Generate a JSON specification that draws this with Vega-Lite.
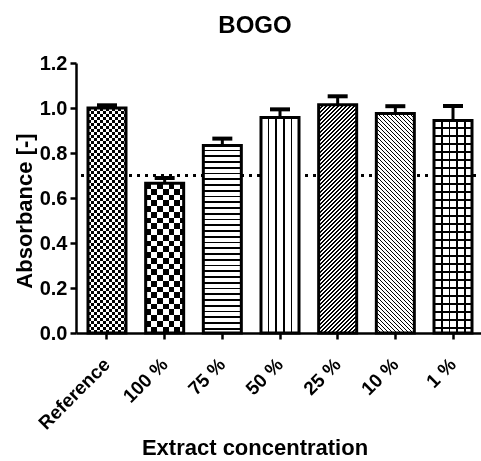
{
"$schema":"https://vega.github.io/schema/vega-lite/v6.json",
"width":408,"height":270,
"autosize":{"type":"none"},
"padding":{"left":76,"top":63,"right":0,"bottom":128},
"background":"white",
"config":{"font":"Liberation Sans","view":{"stroke":null},
"axis":{"domainColor":"#000","domainWidth":2.5,"tickColor":"#000","tickWidth":2.5,"tickSize":6,"labelColor":"#000","labelFont":"Liberation Sans","labelFontWeight":"bold","labelFontSize":20,"titleFont":"Liberation Sans","titleFontSize":22,"titleFontWeight":"bold","titleColor":"#000","grid":false,"labelOverlap":false,"labelBound":false,"labelFlush":false}},
"title":{"text":"BOGO","fontSize":24,"fontWeight":"bold","color":"#000","font":"Liberation Sans","anchor":"middle","dx":-25,"offset":-4,"baseline":"alphabetic"},
"data":{"values":[
{"concentration":"Reference","absorbance":1.0,"upper":1.012},
{"concentration":"100 %","absorbance":0.666,"upper":0.689},
{"concentration":"75 %","absorbance":0.833,"upper":0.864},
{"concentration":"50 %","absorbance":0.958,"upper":0.994},
{"concentration":"25 %","absorbance":1.014,"upper":1.052},
{"concentration":"10 %","absorbance":0.976,"upper":1.008},
{"concentration":"1 %","absorbance":0.944,"upper":1.009}
]},
"layer":[
{"mark":{"type":"rule","color":"#000","strokeWidth":2.5,"strokeDash":[2.5,5.5]},"encoding":{"y":{"datum":0.7}}},
{"encoding":{
"x":{"field":"concentration","type":"nominal","sort":null,"title":"Extract concentration","scale":{"domain":["Reference","100 %","75 %","50 %","25 %","10 %","1 %"],"paddingInner":0.341,"paddingOuter":0.208},"axis":{"labelAngle":-45,"labelAlign":"right","labelBaseline":"middle","labelPadding":22,"labelFontSize":19,"titleX":178.5,"titleY":121,"titleBaseline":"alphabetic","titleAlign":"center"}},
"y":{"field":"absorbance","type":"quantitative","title":"Absorbance [-]","scale":{"domain":[0,1.2],"nice":false},"axis":{"values":[0,0.2,0.4,0.6,0.8,1,1.2],"format":".1f","labelPadding":3,"titleX":-45,"titleY":147.5,"titleBaseline":"alphabetic","titleAlign":"center","titleAngle":-90}}},
"layer":[
{"transform":[{"filter":"datum.concentration === 'Reference'"}],"mark":{"type":"bar","strokeWidth":0,"fill":{"gradient":"linear","x1":0,"y1":0,"x2":1.579,"y2":0,"stops":[
{"offset":0,"color":"#000"},{"offset":0.05,"color":"#000"},{"offset":0.05,"color":"#fff"},{"offset":0.1,"color":"#fff"},
{"offset":0.1,"color":"#000"},{"offset":0.15,"color":"#000"},{"offset":0.15,"color":"#fff"},{"offset":0.2,"color":"#fff"},
{"offset":0.2,"color":"#000"},{"offset":0.25,"color":"#000"},{"offset":0.25,"color":"#fff"},{"offset":0.3,"color":"#fff"},
{"offset":0.3,"color":"#000"},{"offset":0.35,"color":"#000"},{"offset":0.35,"color":"#fff"},{"offset":0.4,"color":"#fff"},
{"offset":0.4,"color":"#000"},{"offset":0.45,"color":"#000"},{"offset":0.45,"color":"#fff"},{"offset":0.5,"color":"#fff"},
{"offset":0.5,"color":"#000"},{"offset":0.55,"color":"#000"},{"offset":0.55,"color":"#fff"},{"offset":0.6,"color":"#fff"},
{"offset":0.6,"color":"#000"},{"offset":0.65,"color":"#000"},{"offset":0.65,"color":"#fff"},{"offset":0.7,"color":"#fff"}]}}},
{"transform":[{"filter":"datum.concentration === 'Reference'"}],"mark":{"type":"bar","strokeWidth":0,"blend":"difference","fill":{"gradient":"linear","x1":0,"y1":0,"x2":0,"y2":1.0667,"stops":[
{"offset":0,"color":"#000"},{"offset":0.0125,"color":"#000"},{"offset":0.0125,"color":"#fff"},{"offset":0.025,"color":"#fff"},
{"offset":0.025,"color":"#000"},{"offset":0.0375,"color":"#000"},{"offset":0.0375,"color":"#fff"},{"offset":0.05,"color":"#fff"},
{"offset":0.05,"color":"#000"},{"offset":0.0625,"color":"#000"},{"offset":0.0625,"color":"#fff"},{"offset":0.075,"color":"#fff"},
{"offset":0.075,"color":"#000"},{"offset":0.0875,"color":"#000"},{"offset":0.0875,"color":"#fff"},{"offset":0.1,"color":"#fff"},
{"offset":0.1,"color":"#000"},{"offset":0.1125,"color":"#000"},{"offset":0.1125,"color":"#fff"},{"offset":0.125,"color":"#fff"},
{"offset":0.125,"color":"#000"},{"offset":0.1375,"color":"#000"},{"offset":0.1375,"color":"#fff"},{"offset":0.15,"color":"#fff"},
{"offset":0.15,"color":"#000"},{"offset":0.1625,"color":"#000"},{"offset":0.1625,"color":"#fff"},{"offset":0.175,"color":"#fff"},
{"offset":0.175,"color":"#000"},{"offset":0.1875,"color":"#000"},{"offset":0.1875,"color":"#fff"},{"offset":0.2,"color":"#fff"},
{"offset":0.2,"color":"#000"},{"offset":0.2125,"color":"#000"},{"offset":0.2125,"color":"#fff"},{"offset":0.225,"color":"#fff"},
{"offset":0.225,"color":"#000"},{"offset":0.2375,"color":"#000"},{"offset":0.2375,"color":"#fff"},{"offset":0.25,"color":"#fff"},
{"offset":0.25,"color":"#000"},{"offset":0.2625,"color":"#000"},{"offset":0.2625,"color":"#fff"},{"offset":0.275,"color":"#fff"},
{"offset":0.275,"color":"#000"},{"offset":0.2875,"color":"#000"},{"offset":0.2875,"color":"#fff"},{"offset":0.3,"color":"#fff"},
{"offset":0.3,"color":"#000"},{"offset":0.3125,"color":"#000"},{"offset":0.3125,"color":"#fff"},{"offset":0.325,"color":"#fff"},
{"offset":0.325,"color":"#000"},{"offset":0.3375,"color":"#000"},{"offset":0.3375,"color":"#fff"},{"offset":0.35,"color":"#fff"},
{"offset":0.35,"color":"#000"},{"offset":0.3625,"color":"#000"},{"offset":0.3625,"color":"#fff"},{"offset":0.375,"color":"#fff"},
{"offset":0.375,"color":"#000"},{"offset":0.3875,"color":"#000"},{"offset":0.3875,"color":"#fff"},{"offset":0.4,"color":"#fff"},
{"offset":0.4,"color":"#000"},{"offset":0.4125,"color":"#000"},{"offset":0.4125,"color":"#fff"},{"offset":0.425,"color":"#fff"},
{"offset":0.425,"color":"#000"},{"offset":0.4375,"color":"#000"},{"offset":0.4375,"color":"#fff"},{"offset":0.45,"color":"#fff"},
{"offset":0.45,"color":"#000"},{"offset":0.4625,"color":"#000"},{"offset":0.4625,"color":"#fff"},{"offset":0.475,"color":"#fff"},
{"offset":0.475,"color":"#000"},{"offset":0.4875,"color":"#000"},{"offset":0.4875,"color":"#fff"},{"offset":0.5,"color":"#fff"},
{"offset":0.5,"color":"#000"},{"offset":0.5125,"color":"#000"},{"offset":0.5125,"color":"#fff"},{"offset":0.525,"color":"#fff"},
{"offset":0.525,"color":"#000"},{"offset":0.5375,"color":"#000"},{"offset":0.5375,"color":"#fff"},{"offset":0.55,"color":"#fff"},
{"offset":0.55,"color":"#000"},{"offset":0.5625,"color":"#000"},{"offset":0.5625,"color":"#fff"},{"offset":0.575,"color":"#fff"},
{"offset":0.575,"color":"#000"},{"offset":0.5875,"color":"#000"},{"offset":0.5875,"color":"#fff"},{"offset":0.6,"color":"#fff"},
{"offset":0.6,"color":"#000"},{"offset":0.6125,"color":"#000"},{"offset":0.6125,"color":"#fff"},{"offset":0.625,"color":"#fff"},
{"offset":0.625,"color":"#000"},{"offset":0.6375,"color":"#000"},{"offset":0.6375,"color":"#fff"},{"offset":0.65,"color":"#fff"},
{"offset":0.65,"color":"#000"},{"offset":0.6625,"color":"#000"},{"offset":0.6625,"color":"#fff"},{"offset":0.675,"color":"#fff"},
{"offset":0.675,"color":"#000"},{"offset":0.6875,"color":"#000"},{"offset":0.6875,"color":"#fff"},{"offset":0.7,"color":"#fff"},
{"offset":0.7,"color":"#000"},{"offset":0.7125,"color":"#000"},{"offset":0.7125,"color":"#fff"},{"offset":0.725,"color":"#fff"},
{"offset":0.725,"color":"#000"},{"offset":0.7375,"color":"#000"},{"offset":0.7375,"color":"#fff"},{"offset":0.75,"color":"#fff"},
{"offset":0.75,"color":"#000"},{"offset":0.7625,"color":"#000"},{"offset":0.7625,"color":"#fff"},{"offset":0.775,"color":"#fff"},
{"offset":0.775,"color":"#000"},{"offset":0.7875,"color":"#000"},{"offset":0.7875,"color":"#fff"},{"offset":0.8,"color":"#fff"},
{"offset":0.8,"color":"#000"},{"offset":0.8125,"color":"#000"},{"offset":0.8125,"color":"#fff"},{"offset":0.825,"color":"#fff"},
{"offset":0.825,"color":"#000"},{"offset":0.8375,"color":"#000"},{"offset":0.8375,"color":"#fff"},{"offset":0.85,"color":"#fff"},
{"offset":0.85,"color":"#000"},{"offset":0.8625,"color":"#000"},{"offset":0.8625,"color":"#fff"},{"offset":0.875,"color":"#fff"},
{"offset":0.875,"color":"#000"},{"offset":0.8875,"color":"#000"},{"offset":0.8875,"color":"#fff"},{"offset":0.9,"color":"#fff"},
{"offset":0.9,"color":"#000"},{"offset":0.9125,"color":"#000"},{"offset":0.9125,"color":"#fff"},{"offset":0.925,"color":"#fff"},
{"offset":0.925,"color":"#000"},{"offset":0.9375,"color":"#000"},{"offset":0.9375,"color":"#fff"},{"offset":0.95,"color":"#fff"}]}}},
{"transform":[{"filter":"datum.concentration === '100 %'"}],"mark":{"type":"bar","strokeWidth":0,"fill":{"gradient":"linear","x1":0,"y1":0,"x2":3.026,"y2":0,"stops":[
{"offset":0,"color":"#000"},{"offset":0.05,"color":"#000"},{"offset":0.05,"color":"#fff"},{"offset":0.1,"color":"#fff"},
{"offset":0.1,"color":"#000"},{"offset":0.15,"color":"#000"},{"offset":0.15,"color":"#fff"},{"offset":0.2,"color":"#fff"},
{"offset":0.2,"color":"#000"},{"offset":0.25,"color":"#000"},{"offset":0.25,"color":"#fff"},{"offset":0.3,"color":"#fff"},
{"offset":0.3,"color":"#000"},{"offset":0.35,"color":"#000"},{"offset":0.35,"color":"#fff"},{"offset":0.4,"color":"#fff"}]}}},
{"transform":[{"filter":"datum.concentration === '100 %'"}],"mark":{"type":"bar","strokeWidth":0,"blend":"difference","fill":{"gradient":"linear","x1":0,"y1":0,"x2":0,"y2":1.533,"stops":[
{"offset":0,"color":"#000"},{"offset":0.025,"color":"#000"},{"offset":0.025,"color":"#fff"},{"offset":0.05,"color":"#fff"},
{"offset":0.05,"color":"#000"},{"offset":0.075,"color":"#000"},{"offset":0.075,"color":"#fff"},{"offset":0.1,"color":"#fff"},
{"offset":0.1,"color":"#000"},{"offset":0.125,"color":"#000"},{"offset":0.125,"color":"#fff"},{"offset":0.15,"color":"#fff"},
{"offset":0.15,"color":"#000"},{"offset":0.175,"color":"#000"},{"offset":0.175,"color":"#fff"},{"offset":0.2,"color":"#fff"},
{"offset":0.2,"color":"#000"},{"offset":0.225,"color":"#000"},{"offset":0.225,"color":"#fff"},{"offset":0.25,"color":"#fff"},
{"offset":0.25,"color":"#000"},{"offset":0.275,"color":"#000"},{"offset":0.275,"color":"#fff"},{"offset":0.3,"color":"#fff"},
{"offset":0.3,"color":"#000"},{"offset":0.325,"color":"#000"},{"offset":0.325,"color":"#fff"},{"offset":0.35,"color":"#fff"},
{"offset":0.35,"color":"#000"},{"offset":0.375,"color":"#000"},{"offset":0.375,"color":"#fff"},{"offset":0.4,"color":"#fff"},
{"offset":0.4,"color":"#000"},{"offset":0.425,"color":"#000"},{"offset":0.425,"color":"#fff"},{"offset":0.45,"color":"#fff"},
{"offset":0.45,"color":"#000"},{"offset":0.475,"color":"#000"},{"offset":0.475,"color":"#fff"},{"offset":0.5,"color":"#fff"},
{"offset":0.5,"color":"#000"},{"offset":0.525,"color":"#000"},{"offset":0.525,"color":"#fff"},{"offset":0.55,"color":"#fff"},
{"offset":0.55,"color":"#000"},{"offset":0.575,"color":"#000"},{"offset":0.575,"color":"#fff"},{"offset":0.6,"color":"#fff"},
{"offset":0.6,"color":"#000"},{"offset":0.625,"color":"#000"},{"offset":0.625,"color":"#fff"},{"offset":0.65,"color":"#fff"},
{"offset":0.65,"color":"#000"},{"offset":0.675,"color":"#000"},{"offset":0.675,"color":"#fff"},{"offset":0.7,"color":"#fff"}]}}},
{"transform":[{"filter":"datum.concentration === '75 %'"}],"mark":{"type":"bar","strokeWidth":0,"fill":{"gradient":"linear","x1":0,"y1":0,"x2":0,"y2":1.227,"stops":[
{"offset":0,"color":"#fff"},{"offset":0.018,"color":"#fff"},{"offset":0.018,"color":"#000"},{"offset":0.025,"color":"#000"},
{"offset":0.025,"color":"#fff"},{"offset":0.043,"color":"#fff"},{"offset":0.043,"color":"#000"},{"offset":0.05,"color":"#000"},
{"offset":0.05,"color":"#fff"},{"offset":0.068,"color":"#fff"},{"offset":0.068,"color":"#000"},{"offset":0.075,"color":"#000"},
{"offset":0.075,"color":"#fff"},{"offset":0.093,"color":"#fff"},{"offset":0.093,"color":"#000"},{"offset":0.1,"color":"#000"},
{"offset":0.1,"color":"#fff"},{"offset":0.118,"color":"#fff"},{"offset":0.118,"color":"#000"},{"offset":0.125,"color":"#000"},
{"offset":0.125,"color":"#fff"},{"offset":0.143,"color":"#fff"},{"offset":0.143,"color":"#000"},{"offset":0.15,"color":"#000"},
{"offset":0.15,"color":"#fff"},{"offset":0.168,"color":"#fff"},{"offset":0.168,"color":"#000"},{"offset":0.175,"color":"#000"},
{"offset":0.175,"color":"#fff"},{"offset":0.193,"color":"#fff"},{"offset":0.193,"color":"#000"},{"offset":0.2,"color":"#000"},
{"offset":0.2,"color":"#fff"},{"offset":0.218,"color":"#fff"},{"offset":0.218,"color":"#000"},{"offset":0.225,"color":"#000"},
{"offset":0.225,"color":"#fff"},{"offset":0.243,"color":"#fff"},{"offset":0.243,"color":"#000"},{"offset":0.25,"color":"#000"},
{"offset":0.25,"color":"#fff"},{"offset":0.268,"color":"#fff"},{"offset":0.268,"color":"#000"},{"offset":0.275,"color":"#000"},
{"offset":0.275,"color":"#fff"},{"offset":0.293,"color":"#fff"},{"offset":0.293,"color":"#000"},{"offset":0.3,"color":"#000"},
{"offset":0.3,"color":"#fff"},{"offset":0.318,"color":"#fff"},{"offset":0.318,"color":"#000"},{"offset":0.325,"color":"#000"},
{"offset":0.325,"color":"#fff"},{"offset":0.343,"color":"#fff"},{"offset":0.343,"color":"#000"},{"offset":0.35,"color":"#000"},
{"offset":0.35,"color":"#fff"},{"offset":0.368,"color":"#fff"},{"offset":0.368,"color":"#000"},{"offset":0.375,"color":"#000"},
{"offset":0.375,"color":"#fff"},{"offset":0.393,"color":"#fff"},{"offset":0.393,"color":"#000"},{"offset":0.4,"color":"#000"},
{"offset":0.4,"color":"#fff"},{"offset":0.418,"color":"#fff"},{"offset":0.418,"color":"#000"},{"offset":0.425,"color":"#000"},
{"offset":0.425,"color":"#fff"},{"offset":0.443,"color":"#fff"},{"offset":0.443,"color":"#000"},{"offset":0.45,"color":"#000"},
{"offset":0.45,"color":"#fff"},{"offset":0.468,"color":"#fff"},{"offset":0.468,"color":"#000"},{"offset":0.475,"color":"#000"},
{"offset":0.475,"color":"#fff"},{"offset":0.493,"color":"#fff"},{"offset":0.493,"color":"#000"},{"offset":0.5,"color":"#000"},
{"offset":0.5,"color":"#fff"},{"offset":0.518,"color":"#fff"},{"offset":0.518,"color":"#000"},{"offset":0.525,"color":"#000"},
{"offset":0.525,"color":"#fff"},{"offset":0.543,"color":"#fff"},{"offset":0.543,"color":"#000"},{"offset":0.55,"color":"#000"},
{"offset":0.55,"color":"#fff"},{"offset":0.568,"color":"#fff"},{"offset":0.568,"color":"#000"},{"offset":0.575,"color":"#000"},
{"offset":0.575,"color":"#fff"},{"offset":0.593,"color":"#fff"},{"offset":0.593,"color":"#000"},{"offset":0.6,"color":"#000"},
{"offset":0.6,"color":"#fff"},{"offset":0.618,"color":"#fff"},{"offset":0.618,"color":"#000"},{"offset":0.625,"color":"#000"},
{"offset":0.625,"color":"#fff"},{"offset":0.643,"color":"#fff"},{"offset":0.643,"color":"#000"},{"offset":0.65,"color":"#000"},
{"offset":0.65,"color":"#fff"},{"offset":0.668,"color":"#fff"},{"offset":0.668,"color":"#000"},{"offset":0.675,"color":"#000"},
{"offset":0.675,"color":"#fff"},{"offset":0.693,"color":"#fff"},{"offset":0.693,"color":"#000"},{"offset":0.7,"color":"#000"},
{"offset":0.7,"color":"#fff"},{"offset":0.718,"color":"#fff"},{"offset":0.718,"color":"#000"},{"offset":0.725,"color":"#000"},
{"offset":0.725,"color":"#fff"},{"offset":0.743,"color":"#fff"},{"offset":0.743,"color":"#000"},{"offset":0.75,"color":"#000"},
{"offset":0.75,"color":"#fff"},{"offset":0.768,"color":"#fff"},{"offset":0.768,"color":"#000"},{"offset":0.775,"color":"#000"},
{"offset":0.775,"color":"#fff"},{"offset":0.793,"color":"#fff"},{"offset":0.793,"color":"#000"},{"offset":0.8,"color":"#000"},
{"offset":0.8,"color":"#fff"},{"offset":0.818,"color":"#fff"},{"offset":0.818,"color":"#000"},{"offset":0.825,"color":"#000"}]}}},
{"transform":[{"filter":"datum.concentration === '50 %'"}],"mark":{"type":"bar","strokeWidth":0,"fill":{"gradient":"linear","x1":0,"y1":0,"x2":1,"y2":0,"stops":[
{"offset":0,"color":"#fff"},{"offset":0.18,"color":"#fff"},{"offset":0.18,"color":"#000"},{"offset":0.22,"color":"#000"},
{"offset":0.22,"color":"#fff"},{"offset":0.38,"color":"#fff"},{"offset":0.38,"color":"#000"},{"offset":0.42,"color":"#000"},
{"offset":0.42,"color":"#fff"},{"offset":0.58,"color":"#fff"},{"offset":0.58,"color":"#000"},{"offset":0.62,"color":"#000"},
{"offset":0.62,"color":"#fff"},{"offset":0.78,"color":"#fff"},{"offset":0.78,"color":"#000"},{"offset":0.82,"color":"#000"},
{"offset":0.82,"color":"#fff"},{"offset":1,"color":"#fff"}]}}},
{"transform":[{"filter":"datum.concentration === '25 %'"}],"mark":{"type":"bar","strokeWidth":0,"fill":{"gradient":"linear","x1":0,"y1":0,"x2":0.284,"y2":1.7056,"stops":[
{"offset":0,"color":"#000"},{"offset":0.004,"color":"#000"},{"offset":0.004,"color":"#fff"},{"offset":0.01,"color":"#fff"},
{"offset":0.01,"color":"#000"},{"offset":0.014,"color":"#000"},{"offset":0.014,"color":"#fff"},{"offset":0.02,"color":"#fff"},
{"offset":0.02,"color":"#000"},{"offset":0.024,"color":"#000"},{"offset":0.024,"color":"#fff"},{"offset":0.03,"color":"#fff"},
{"offset":0.03,"color":"#000"},{"offset":0.034,"color":"#000"},{"offset":0.034,"color":"#fff"},{"offset":0.04,"color":"#fff"},
{"offset":0.04,"color":"#000"},{"offset":0.044,"color":"#000"},{"offset":0.044,"color":"#fff"},{"offset":0.05,"color":"#fff"},
{"offset":0.05,"color":"#000"},{"offset":0.054,"color":"#000"},{"offset":0.054,"color":"#fff"},{"offset":0.06,"color":"#fff"},
{"offset":0.06,"color":"#000"},{"offset":0.064,"color":"#000"},{"offset":0.064,"color":"#fff"},{"offset":0.07,"color":"#fff"},
{"offset":0.07,"color":"#000"},{"offset":0.074,"color":"#000"},{"offset":0.074,"color":"#fff"},{"offset":0.08,"color":"#fff"},
{"offset":0.08,"color":"#000"},{"offset":0.084,"color":"#000"},{"offset":0.084,"color":"#fff"},{"offset":0.09,"color":"#fff"},
{"offset":0.09,"color":"#000"},{"offset":0.094,"color":"#000"},{"offset":0.094,"color":"#fff"},{"offset":0.1,"color":"#fff"},
{"offset":0.1,"color":"#000"},{"offset":0.104,"color":"#000"},{"offset":0.104,"color":"#fff"},{"offset":0.11,"color":"#fff"},
{"offset":0.11,"color":"#000"},{"offset":0.114,"color":"#000"},{"offset":0.114,"color":"#fff"},{"offset":0.12,"color":"#fff"},
{"offset":0.12,"color":"#000"},{"offset":0.124,"color":"#000"},{"offset":0.124,"color":"#fff"},{"offset":0.13,"color":"#fff"},
{"offset":0.13,"color":"#000"},{"offset":0.134,"color":"#000"},{"offset":0.134,"color":"#fff"},{"offset":0.14,"color":"#fff"},
{"offset":0.14,"color":"#000"},{"offset":0.144,"color":"#000"},{"offset":0.144,"color":"#fff"},{"offset":0.15,"color":"#fff"},
{"offset":0.15,"color":"#000"},{"offset":0.154,"color":"#000"},{"offset":0.154,"color":"#fff"},{"offset":0.16,"color":"#fff"},
{"offset":0.16,"color":"#000"},{"offset":0.164,"color":"#000"},{"offset":0.164,"color":"#fff"},{"offset":0.17,"color":"#fff"},
{"offset":0.17,"color":"#000"},{"offset":0.174,"color":"#000"},{"offset":0.174,"color":"#fff"},{"offset":0.18,"color":"#fff"},
{"offset":0.18,"color":"#000"},{"offset":0.184,"color":"#000"},{"offset":0.184,"color":"#fff"},{"offset":0.19,"color":"#fff"},
{"offset":0.19,"color":"#000"},{"offset":0.194,"color":"#000"},{"offset":0.194,"color":"#fff"},{"offset":0.2,"color":"#fff"},
{"offset":0.2,"color":"#000"},{"offset":0.204,"color":"#000"},{"offset":0.204,"color":"#fff"},{"offset":0.21,"color":"#fff"},
{"offset":0.21,"color":"#000"},{"offset":0.214,"color":"#000"},{"offset":0.214,"color":"#fff"},{"offset":0.22,"color":"#fff"},
{"offset":0.22,"color":"#000"},{"offset":0.224,"color":"#000"},{"offset":0.224,"color":"#fff"},{"offset":0.23,"color":"#fff"},
{"offset":0.23,"color":"#000"},{"offset":0.234,"color":"#000"},{"offset":0.234,"color":"#fff"},{"offset":0.24,"color":"#fff"},
{"offset":0.24,"color":"#000"},{"offset":0.244,"color":"#000"},{"offset":0.244,"color":"#fff"},{"offset":0.25,"color":"#fff"},
{"offset":0.25,"color":"#000"},{"offset":0.254,"color":"#000"},{"offset":0.254,"color":"#fff"},{"offset":0.26,"color":"#fff"},
{"offset":0.26,"color":"#000"},{"offset":0.264,"color":"#000"},{"offset":0.264,"color":"#fff"},{"offset":0.27,"color":"#fff"},
{"offset":0.27,"color":"#000"},{"offset":0.274,"color":"#000"},{"offset":0.274,"color":"#fff"},{"offset":0.28,"color":"#fff"},
{"offset":0.28,"color":"#000"},{"offset":0.284,"color":"#000"},{"offset":0.284,"color":"#fff"},{"offset":0.29,"color":"#fff"},
{"offset":0.29,"color":"#000"},{"offset":0.294,"color":"#000"},{"offset":0.294,"color":"#fff"},{"offset":0.3,"color":"#fff"},
{"offset":0.3,"color":"#000"},{"offset":0.304,"color":"#000"},{"offset":0.304,"color":"#fff"},{"offset":0.31,"color":"#fff"},
{"offset":0.31,"color":"#000"},{"offset":0.314,"color":"#000"},{"offset":0.314,"color":"#fff"},{"offset":0.32,"color":"#fff"},
{"offset":0.32,"color":"#000"},{"offset":0.324,"color":"#000"},{"offset":0.324,"color":"#fff"},{"offset":0.33,"color":"#fff"},
{"offset":0.33,"color":"#000"},{"offset":0.334,"color":"#000"},{"offset":0.334,"color":"#fff"},{"offset":0.34,"color":"#fff"},
{"offset":0.34,"color":"#000"},{"offset":0.344,"color":"#000"},{"offset":0.344,"color":"#fff"},{"offset":0.35,"color":"#fff"},
{"offset":0.35,"color":"#000"},{"offset":0.354,"color":"#000"},{"offset":0.354,"color":"#fff"},{"offset":0.36,"color":"#fff"},
{"offset":0.36,"color":"#000"},{"offset":0.364,"color":"#000"},{"offset":0.364,"color":"#fff"},{"offset":0.37,"color":"#fff"},
{"offset":0.37,"color":"#000"},{"offset":0.374,"color":"#000"},{"offset":0.374,"color":"#fff"},{"offset":0.38,"color":"#fff"},
{"offset":0.38,"color":"#000"},{"offset":0.384,"color":"#000"},{"offset":0.384,"color":"#fff"},{"offset":0.39,"color":"#fff"},
{"offset":0.39,"color":"#000"},{"offset":0.394,"color":"#000"},{"offset":0.394,"color":"#fff"},{"offset":0.4,"color":"#fff"},
{"offset":0.4,"color":"#000"},{"offset":0.404,"color":"#000"},{"offset":0.404,"color":"#fff"},{"offset":0.41,"color":"#fff"},
{"offset":0.41,"color":"#000"},{"offset":0.414,"color":"#000"},{"offset":0.414,"color":"#fff"},{"offset":0.42,"color":"#fff"},
{"offset":0.42,"color":"#000"},{"offset":0.424,"color":"#000"},{"offset":0.424,"color":"#fff"},{"offset":0.43,"color":"#fff"},
{"offset":0.43,"color":"#000"},{"offset":0.434,"color":"#000"},{"offset":0.434,"color":"#fff"},{"offset":0.44,"color":"#fff"},
{"offset":0.44,"color":"#000"},{"offset":0.444,"color":"#000"},{"offset":0.444,"color":"#fff"},{"offset":0.45,"color":"#fff"},
{"offset":0.45,"color":"#000"},{"offset":0.454,"color":"#000"},{"offset":0.454,"color":"#fff"},{"offset":0.46,"color":"#fff"},
{"offset":0.46,"color":"#000"},{"offset":0.464,"color":"#000"},{"offset":0.464,"color":"#fff"},{"offset":0.47,"color":"#fff"},
{"offset":0.47,"color":"#000"},{"offset":0.474,"color":"#000"},{"offset":0.474,"color":"#fff"},{"offset":0.48,"color":"#fff"},
{"offset":0.48,"color":"#000"},{"offset":0.484,"color":"#000"},{"offset":0.484,"color":"#fff"},{"offset":0.49,"color":"#fff"},
{"offset":0.49,"color":"#000"},{"offset":0.494,"color":"#000"},{"offset":0.494,"color":"#fff"},{"offset":0.5,"color":"#fff"},
{"offset":0.5,"color":"#000"},{"offset":0.504,"color":"#000"},{"offset":0.504,"color":"#fff"},{"offset":0.51,"color":"#fff"},
{"offset":0.51,"color":"#000"},{"offset":0.514,"color":"#000"},{"offset":0.514,"color":"#fff"},{"offset":0.52,"color":"#fff"},
{"offset":0.52,"color":"#000"},{"offset":0.524,"color":"#000"},{"offset":0.524,"color":"#fff"},{"offset":0.53,"color":"#fff"},
{"offset":0.53,"color":"#000"},{"offset":0.534,"color":"#000"},{"offset":0.534,"color":"#fff"},{"offset":0.54,"color":"#fff"},
{"offset":0.54,"color":"#000"},{"offset":0.544,"color":"#000"},{"offset":0.544,"color":"#fff"},{"offset":0.55,"color":"#fff"},
{"offset":0.55,"color":"#000"},{"offset":0.554,"color":"#000"},{"offset":0.554,"color":"#fff"},{"offset":0.56,"color":"#fff"},
{"offset":0.56,"color":"#000"},{"offset":0.564,"color":"#000"},{"offset":0.564,"color":"#fff"},{"offset":0.57,"color":"#fff"},
{"offset":0.57,"color":"#000"},{"offset":0.574,"color":"#000"},{"offset":0.574,"color":"#fff"},{"offset":0.58,"color":"#fff"},
{"offset":0.58,"color":"#000"},{"offset":0.584,"color":"#000"},{"offset":0.584,"color":"#fff"},{"offset":0.59,"color":"#fff"},
{"offset":0.59,"color":"#000"},{"offset":0.594,"color":"#000"},{"offset":0.594,"color":"#fff"},{"offset":0.6,"color":"#fff"},
{"offset":0.6,"color":"#000"},{"offset":0.604,"color":"#000"},{"offset":0.604,"color":"#fff"},{"offset":0.61,"color":"#fff"},
{"offset":0.61,"color":"#000"},{"offset":0.614,"color":"#000"},{"offset":0.614,"color":"#fff"},{"offset":0.62,"color":"#fff"},
{"offset":0.62,"color":"#000"},{"offset":0.624,"color":"#000"},{"offset":0.624,"color":"#fff"},{"offset":0.63,"color":"#fff"},
{"offset":0.63,"color":"#000"},{"offset":0.634,"color":"#000"},{"offset":0.634,"color":"#fff"},{"offset":0.64,"color":"#fff"},
{"offset":0.64,"color":"#000"},{"offset":0.644,"color":"#000"},{"offset":0.644,"color":"#fff"},{"offset":0.65,"color":"#fff"},
{"offset":0.65,"color":"#000"},{"offset":0.654,"color":"#000"},{"offset":0.654,"color":"#fff"},{"offset":0.66,"color":"#fff"},
{"offset":0.66,"color":"#000"},{"offset":0.664,"color":"#000"},{"offset":0.664,"color":"#fff"},{"offset":0.67,"color":"#fff"}]}}},
{"transform":[{"filter":"datum.concentration === '10 %'"}],"mark":{"type":"bar","strokeWidth":0,"fill":{"gradient":"linear","x1":1,"y1":0,"x2":0.694,"y2":1.7685,"stops":[
{"offset":0,"color":"#000"},{"offset":0.004,"color":"#000"},{"offset":0.004,"color":"#fff"},{"offset":0.01,"color":"#fff"},
{"offset":0.01,"color":"#000"},{"offset":0.014,"color":"#000"},{"offset":0.014,"color":"#fff"},{"offset":0.02,"color":"#fff"},
{"offset":0.02,"color":"#000"},{"offset":0.024,"color":"#000"},{"offset":0.024,"color":"#fff"},{"offset":0.03,"color":"#fff"},
{"offset":0.03,"color":"#000"},{"offset":0.034,"color":"#000"},{"offset":0.034,"color":"#fff"},{"offset":0.04,"color":"#fff"},
{"offset":0.04,"color":"#000"},{"offset":0.044,"color":"#000"},{"offset":0.044,"color":"#fff"},{"offset":0.05,"color":"#fff"},
{"offset":0.05,"color":"#000"},{"offset":0.054,"color":"#000"},{"offset":0.054,"color":"#fff"},{"offset":0.06,"color":"#fff"},
{"offset":0.06,"color":"#000"},{"offset":0.064,"color":"#000"},{"offset":0.064,"color":"#fff"},{"offset":0.07,"color":"#fff"},
{"offset":0.07,"color":"#000"},{"offset":0.074,"color":"#000"},{"offset":0.074,"color":"#fff"},{"offset":0.08,"color":"#fff"},
{"offset":0.08,"color":"#000"},{"offset":0.084,"color":"#000"},{"offset":0.084,"color":"#fff"},{"offset":0.09,"color":"#fff"},
{"offset":0.09,"color":"#000"},{"offset":0.094,"color":"#000"},{"offset":0.094,"color":"#fff"},{"offset":0.1,"color":"#fff"},
{"offset":0.1,"color":"#000"},{"offset":0.104,"color":"#000"},{"offset":0.104,"color":"#fff"},{"offset":0.11,"color":"#fff"},
{"offset":0.11,"color":"#000"},{"offset":0.114,"color":"#000"},{"offset":0.114,"color":"#fff"},{"offset":0.12,"color":"#fff"},
{"offset":0.12,"color":"#000"},{"offset":0.124,"color":"#000"},{"offset":0.124,"color":"#fff"},{"offset":0.13,"color":"#fff"},
{"offset":0.13,"color":"#000"},{"offset":0.134,"color":"#000"},{"offset":0.134,"color":"#fff"},{"offset":0.14,"color":"#fff"},
{"offset":0.14,"color":"#000"},{"offset":0.144,"color":"#000"},{"offset":0.144,"color":"#fff"},{"offset":0.15,"color":"#fff"},
{"offset":0.15,"color":"#000"},{"offset":0.154,"color":"#000"},{"offset":0.154,"color":"#fff"},{"offset":0.16,"color":"#fff"},
{"offset":0.16,"color":"#000"},{"offset":0.164,"color":"#000"},{"offset":0.164,"color":"#fff"},{"offset":0.17,"color":"#fff"},
{"offset":0.17,"color":"#000"},{"offset":0.174,"color":"#000"},{"offset":0.174,"color":"#fff"},{"offset":0.18,"color":"#fff"},
{"offset":0.18,"color":"#000"},{"offset":0.184,"color":"#000"},{"offset":0.184,"color":"#fff"},{"offset":0.19,"color":"#fff"},
{"offset":0.19,"color":"#000"},{"offset":0.194,"color":"#000"},{"offset":0.194,"color":"#fff"},{"offset":0.2,"color":"#fff"},
{"offset":0.2,"color":"#000"},{"offset":0.204,"color":"#000"},{"offset":0.204,"color":"#fff"},{"offset":0.21,"color":"#fff"},
{"offset":0.21,"color":"#000"},{"offset":0.214,"color":"#000"},{"offset":0.214,"color":"#fff"},{"offset":0.22,"color":"#fff"},
{"offset":0.22,"color":"#000"},{"offset":0.224,"color":"#000"},{"offset":0.224,"color":"#fff"},{"offset":0.23,"color":"#fff"},
{"offset":0.23,"color":"#000"},{"offset":0.234,"color":"#000"},{"offset":0.234,"color":"#fff"},{"offset":0.24,"color":"#fff"},
{"offset":0.24,"color":"#000"},{"offset":0.244,"color":"#000"},{"offset":0.244,"color":"#fff"},{"offset":0.25,"color":"#fff"},
{"offset":0.25,"color":"#000"},{"offset":0.254,"color":"#000"},{"offset":0.254,"color":"#fff"},{"offset":0.26,"color":"#fff"},
{"offset":0.26,"color":"#000"},{"offset":0.264,"color":"#000"},{"offset":0.264,"color":"#fff"},{"offset":0.27,"color":"#fff"},
{"offset":0.27,"color":"#000"},{"offset":0.274,"color":"#000"},{"offset":0.274,"color":"#fff"},{"offset":0.28,"color":"#fff"},
{"offset":0.28,"color":"#000"},{"offset":0.284,"color":"#000"},{"offset":0.284,"color":"#fff"},{"offset":0.29,"color":"#fff"},
{"offset":0.29,"color":"#000"},{"offset":0.294,"color":"#000"},{"offset":0.294,"color":"#fff"},{"offset":0.3,"color":"#fff"},
{"offset":0.3,"color":"#000"},{"offset":0.304,"color":"#000"},{"offset":0.304,"color":"#fff"},{"offset":0.31,"color":"#fff"},
{"offset":0.31,"color":"#000"},{"offset":0.314,"color":"#000"},{"offset":0.314,"color":"#fff"},{"offset":0.32,"color":"#fff"},
{"offset":0.32,"color":"#000"},{"offset":0.324,"color":"#000"},{"offset":0.324,"color":"#fff"},{"offset":0.33,"color":"#fff"},
{"offset":0.33,"color":"#000"},{"offset":0.334,"color":"#000"},{"offset":0.334,"color":"#fff"},{"offset":0.34,"color":"#fff"},
{"offset":0.34,"color":"#000"},{"offset":0.344,"color":"#000"},{"offset":0.344,"color":"#fff"},{"offset":0.35,"color":"#fff"},
{"offset":0.35,"color":"#000"},{"offset":0.354,"color":"#000"},{"offset":0.354,"color":"#fff"},{"offset":0.36,"color":"#fff"},
{"offset":0.36,"color":"#000"},{"offset":0.364,"color":"#000"},{"offset":0.364,"color":"#fff"},{"offset":0.37,"color":"#fff"},
{"offset":0.37,"color":"#000"},{"offset":0.374,"color":"#000"},{"offset":0.374,"color":"#fff"},{"offset":0.38,"color":"#fff"},
{"offset":0.38,"color":"#000"},{"offset":0.384,"color":"#000"},{"offset":0.384,"color":"#fff"},{"offset":0.39,"color":"#fff"},
{"offset":0.39,"color":"#000"},{"offset":0.394,"color":"#000"},{"offset":0.394,"color":"#fff"},{"offset":0.4,"color":"#fff"},
{"offset":0.4,"color":"#000"},{"offset":0.404,"color":"#000"},{"offset":0.404,"color":"#fff"},{"offset":0.41,"color":"#fff"},
{"offset":0.41,"color":"#000"},{"offset":0.414,"color":"#000"},{"offset":0.414,"color":"#fff"},{"offset":0.42,"color":"#fff"},
{"offset":0.42,"color":"#000"},{"offset":0.424,"color":"#000"},{"offset":0.424,"color":"#fff"},{"offset":0.43,"color":"#fff"},
{"offset":0.43,"color":"#000"},{"offset":0.434,"color":"#000"},{"offset":0.434,"color":"#fff"},{"offset":0.44,"color":"#fff"},
{"offset":0.44,"color":"#000"},{"offset":0.444,"color":"#000"},{"offset":0.444,"color":"#fff"},{"offset":0.45,"color":"#fff"},
{"offset":0.45,"color":"#000"},{"offset":0.454,"color":"#000"},{"offset":0.454,"color":"#fff"},{"offset":0.46,"color":"#fff"},
{"offset":0.46,"color":"#000"},{"offset":0.464,"color":"#000"},{"offset":0.464,"color":"#fff"},{"offset":0.47,"color":"#fff"},
{"offset":0.47,"color":"#000"},{"offset":0.474,"color":"#000"},{"offset":0.474,"color":"#fff"},{"offset":0.48,"color":"#fff"},
{"offset":0.48,"color":"#000"},{"offset":0.484,"color":"#000"},{"offset":0.484,"color":"#fff"},{"offset":0.49,"color":"#fff"},
{"offset":0.49,"color":"#000"},{"offset":0.494,"color":"#000"},{"offset":0.494,"color":"#fff"},{"offset":0.5,"color":"#fff"},
{"offset":0.5,"color":"#000"},{"offset":0.504,"color":"#000"},{"offset":0.504,"color":"#fff"},{"offset":0.51,"color":"#fff"},
{"offset":0.51,"color":"#000"},{"offset":0.514,"color":"#000"},{"offset":0.514,"color":"#fff"},{"offset":0.52,"color":"#fff"},
{"offset":0.52,"color":"#000"},{"offset":0.524,"color":"#000"},{"offset":0.524,"color":"#fff"},{"offset":0.53,"color":"#fff"},
{"offset":0.53,"color":"#000"},{"offset":0.534,"color":"#000"},{"offset":0.534,"color":"#fff"},{"offset":0.54,"color":"#fff"},
{"offset":0.54,"color":"#000"},{"offset":0.544,"color":"#000"},{"offset":0.544,"color":"#fff"},{"offset":0.55,"color":"#fff"},
{"offset":0.55,"color":"#000"},{"offset":0.554,"color":"#000"},{"offset":0.554,"color":"#fff"},{"offset":0.56,"color":"#fff"},
{"offset":0.56,"color":"#000"},{"offset":0.564,"color":"#000"},{"offset":0.564,"color":"#fff"},{"offset":0.57,"color":"#fff"},
{"offset":0.57,"color":"#000"},{"offset":0.574,"color":"#000"},{"offset":0.574,"color":"#fff"},{"offset":0.58,"color":"#fff"},
{"offset":0.58,"color":"#000"},{"offset":0.584,"color":"#000"},{"offset":0.584,"color":"#fff"},{"offset":0.59,"color":"#fff"},
{"offset":0.59,"color":"#000"},{"offset":0.594,"color":"#000"},{"offset":0.594,"color":"#fff"},{"offset":0.6,"color":"#fff"},
{"offset":0.6,"color":"#000"},{"offset":0.604,"color":"#000"},{"offset":0.604,"color":"#fff"},{"offset":0.61,"color":"#fff"},
{"offset":0.61,"color":"#000"},{"offset":0.614,"color":"#000"},{"offset":0.614,"color":"#fff"},{"offset":0.62,"color":"#fff"},
{"offset":0.62,"color":"#000"},{"offset":0.624,"color":"#000"},{"offset":0.624,"color":"#fff"},{"offset":0.63,"color":"#fff"},
{"offset":0.63,"color":"#000"},{"offset":0.634,"color":"#000"},{"offset":0.634,"color":"#fff"},{"offset":0.64,"color":"#fff"},
{"offset":0.64,"color":"#000"},{"offset":0.644,"color":"#000"},{"offset":0.644,"color":"#fff"},{"offset":0.65,"color":"#fff"}]}}},
{"transform":[{"filter":"datum.concentration === '1 %'"}],"mark":{"type":"bar","strokeWidth":0,"fill":{"gradient":"linear","x1":0,"y1":0,"x2":1,"y2":0,"stops":[
{"offset":0,"color":"#fff"},{"offset":0.18,"color":"#fff"},{"offset":0.18,"color":"#000"},{"offset":0.225,"color":"#000"},
{"offset":0.225,"color":"#fff"},{"offset":0.385,"color":"#fff"},{"offset":0.385,"color":"#000"},{"offset":0.43,"color":"#000"},
{"offset":0.43,"color":"#fff"},{"offset":0.59,"color":"#fff"},{"offset":0.59,"color":"#000"},{"offset":0.635,"color":"#000"},
{"offset":0.635,"color":"#fff"},{"offset":0.795,"color":"#fff"},{"offset":0.795,"color":"#000"},{"offset":0.84,"color":"#000"},
{"offset":0.84,"color":"#fff"},{"offset":1,"color":"#fff"}]}}},
{"transform":[{"filter":"datum.concentration === '1 %'"}],"mark":{"type":"bar","strokeWidth":0,"blend":"multiply","fill":{"gradient":"linear","x1":0,"y1":0,"x2":0,"y2":1.5066,"stops":[
{"offset":0,"color":"#fff"},{"offset":0.02,"color":"#fff"},{"offset":0.02,"color":"#000"},{"offset":0.025,"color":"#000"},
{"offset":0.025,"color":"#fff"},{"offset":0.045,"color":"#fff"},{"offset":0.045,"color":"#000"},{"offset":0.05,"color":"#000"},
{"offset":0.05,"color":"#fff"},{"offset":0.07,"color":"#fff"},{"offset":0.07,"color":"#000"},{"offset":0.075,"color":"#000"},
{"offset":0.075,"color":"#fff"},{"offset":0.095,"color":"#fff"},{"offset":0.095,"color":"#000"},{"offset":0.1,"color":"#000"},
{"offset":0.1,"color":"#fff"},{"offset":0.12,"color":"#fff"},{"offset":0.12,"color":"#000"},{"offset":0.125,"color":"#000"},
{"offset":0.125,"color":"#fff"},{"offset":0.145,"color":"#fff"},{"offset":0.145,"color":"#000"},{"offset":0.15,"color":"#000"},
{"offset":0.15,"color":"#fff"},{"offset":0.17,"color":"#fff"},{"offset":0.17,"color":"#000"},{"offset":0.175,"color":"#000"},
{"offset":0.175,"color":"#fff"},{"offset":0.195,"color":"#fff"},{"offset":0.195,"color":"#000"},{"offset":0.2,"color":"#000"},
{"offset":0.2,"color":"#fff"},{"offset":0.22,"color":"#fff"},{"offset":0.22,"color":"#000"},{"offset":0.225,"color":"#000"},
{"offset":0.225,"color":"#fff"},{"offset":0.245,"color":"#fff"},{"offset":0.245,"color":"#000"},{"offset":0.25,"color":"#000"},
{"offset":0.25,"color":"#fff"},{"offset":0.27,"color":"#fff"},{"offset":0.27,"color":"#000"},{"offset":0.275,"color":"#000"},
{"offset":0.275,"color":"#fff"},{"offset":0.295,"color":"#fff"},{"offset":0.295,"color":"#000"},{"offset":0.3,"color":"#000"},
{"offset":0.3,"color":"#fff"},{"offset":0.32,"color":"#fff"},{"offset":0.32,"color":"#000"},{"offset":0.325,"color":"#000"},
{"offset":0.325,"color":"#fff"},{"offset":0.345,"color":"#fff"},{"offset":0.345,"color":"#000"},{"offset":0.35,"color":"#000"},
{"offset":0.35,"color":"#fff"},{"offset":0.37,"color":"#fff"},{"offset":0.37,"color":"#000"},{"offset":0.375,"color":"#000"},
{"offset":0.375,"color":"#fff"},{"offset":0.395,"color":"#fff"},{"offset":0.395,"color":"#000"},{"offset":0.4,"color":"#000"},
{"offset":0.4,"color":"#fff"},{"offset":0.42,"color":"#fff"},{"offset":0.42,"color":"#000"},{"offset":0.425,"color":"#000"},
{"offset":0.425,"color":"#fff"},{"offset":0.445,"color":"#fff"},{"offset":0.445,"color":"#000"},{"offset":0.45,"color":"#000"},
{"offset":0.45,"color":"#fff"},{"offset":0.47,"color":"#fff"},{"offset":0.47,"color":"#000"},{"offset":0.475,"color":"#000"},
{"offset":0.475,"color":"#fff"},{"offset":0.495,"color":"#fff"},{"offset":0.495,"color":"#000"},{"offset":0.5,"color":"#000"},
{"offset":0.5,"color":"#fff"},{"offset":0.52,"color":"#fff"},{"offset":0.52,"color":"#000"},{"offset":0.525,"color":"#000"},
{"offset":0.525,"color":"#fff"},{"offset":0.545,"color":"#fff"},{"offset":0.545,"color":"#000"},{"offset":0.55,"color":"#000"},
{"offset":0.55,"color":"#fff"},{"offset":0.57,"color":"#fff"},{"offset":0.57,"color":"#000"},{"offset":0.575,"color":"#000"},
{"offset":0.575,"color":"#fff"},{"offset":0.595,"color":"#fff"},{"offset":0.595,"color":"#000"},{"offset":0.6,"color":"#000"},
{"offset":0.6,"color":"#fff"},{"offset":0.62,"color":"#fff"},{"offset":0.62,"color":"#000"},{"offset":0.625,"color":"#000"},
{"offset":0.625,"color":"#fff"},{"offset":0.645,"color":"#fff"},{"offset":0.645,"color":"#000"},{"offset":0.65,"color":"#000"},
{"offset":0.65,"color":"#fff"},{"offset":0.67,"color":"#fff"},{"offset":0.67,"color":"#000"},{"offset":0.675,"color":"#000"}]}}},
{"mark":{"type":"bar","fill":"transparent","stroke":"#000","strokeWidth":3}},
{"mark":{"type":"rule","color":"#000","strokeWidth":3},"encoding":{"y2":{"field":"upper"}}},
{"mark":{"type":"tick","color":"#000","size":20,"thickness":4,"opacity":1},"encoding":{"y":{"field":"upper","type":"quantitative","title":"Absorbance [-]"}}}
]}
]
}
